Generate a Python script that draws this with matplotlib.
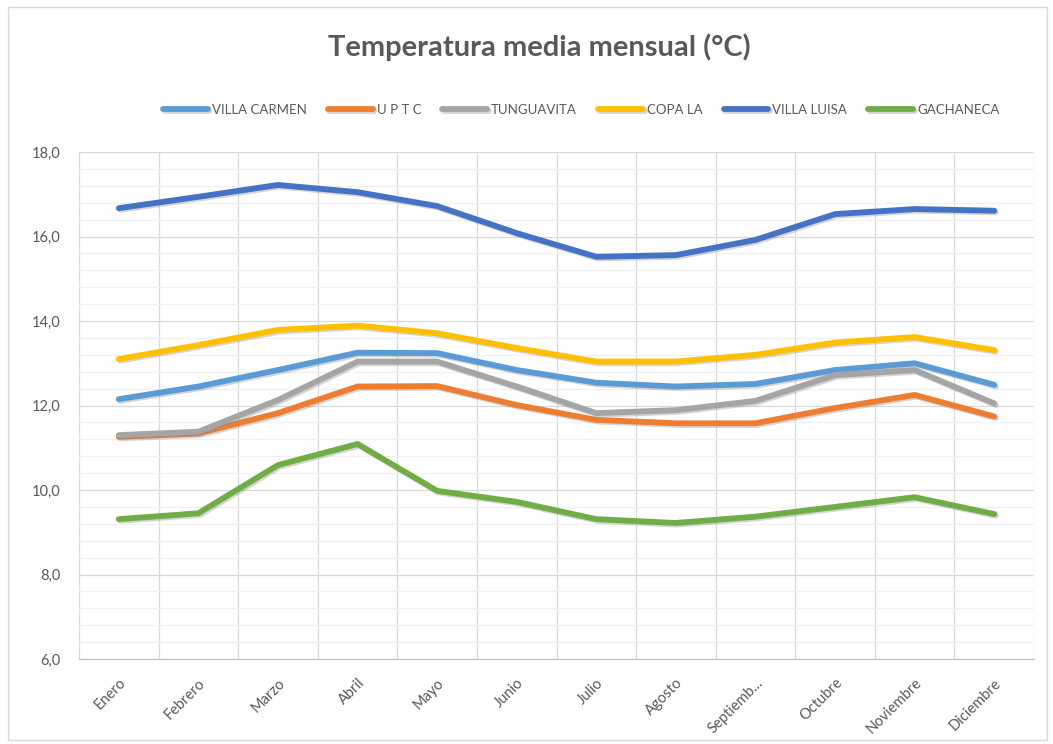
import numpy as np
import matplotlib.pyplot as plt
import matplotlib.patheffects as pe
from matplotlib.ticker import MultipleLocator, FuncFormatter
from matplotlib.patches import Rectangle

plt.rcParams['font.family'] = ['Lato', 'DejaVu Sans']

meses = ['Enero', 'Febrero', 'Marzo', 'Abril', 'Mayo', 'Junio', 'Julio',
         'Agosto', 'Septiemb...', 'Octubre', 'Noviembre', 'Diciembre']

# temperatura media mensual por estacion (°C)
villa_carmen = [12.15, 12.45, 12.84, 13.25, 13.24, 12.84, 12.54, 12.45, 12.51, 12.84, 13.00, 12.49]
uptc = [11.26, 11.34, 11.82, 12.45, 12.46, 12.01, 11.66, 11.58, 11.58, 11.94, 12.25, 11.74]
tunguavita = [11.30, 11.38, 12.13, 13.04, 13.04, 12.45, 11.82, 11.89, 12.11, 12.72, 12.84, 12.05]
copa_la = [13.10, 13.43, 13.79, 13.89, 13.71, 13.36, 13.04, 13.04, 13.20, 13.49, 13.62, 13.31]
villa_luisa = [16.67, 16.94, 17.22, 17.05, 16.72, 16.08, 15.52, 15.56, 15.92, 16.53, 16.65, 16.61]
gachaneca = [9.31, 9.45, 10.59, 11.09, 9.98, 9.72, 9.31, 9.22, 9.37, 9.60, 9.83, 9.43]

series = [
    ('VILLA CARMEN', villa_carmen, '#5B9BD5'),
    ('U P T C', uptc, '#ED7D31'),
    ('TUNGUAVITA', tunguavita, '#A5A5A5'),
    ('COPA LA', copa_la, '#FFC000'),
    ('VILLA LUISA', villa_luisa, '#4472C4'),
    ('GACHANECA', gachaneca, '#70AD47'),
]

gris = '#595959'

fig = plt.figure(figsize=(10.53, 7.44), dpi=100)
ax = fig.add_axes([0.075, 0.1142, 0.907, 0.6815])

x = np.arange(len(meses))
sombra = [pe.SimpleLineShadow(offset=(1.2, -1.2), shadow_color='#888888', alpha=0.35),
          pe.Normal()]
for nombre, valores, color in series:
    ax.plot(x, valores, color=color, lw=4.2, label=nombre,
            solid_capstyle='round', solid_joinstyle='round', path_effects=sombra)

ax.set_xlim(-0.5, len(meses) - 0.5)
ax.set_ylim(6, 18)
ax.yaxis.set_major_locator(MultipleLocator(2))
ax.yaxis.set_minor_locator(MultipleLocator(0.4))
ax.yaxis.set_major_formatter(FuncFormatter(lambda v, p: f'{v:.1f}'.replace('.', ',')))

ax.set_xticks(x)
ax.set_xticklabels(meses, rotation=45, ha='right', rotation_mode='anchor')
ax.set_xticks(np.arange(-0.5, len(meses)), minor=True)

ax.grid(which='major', axis='y', color='#D9D9D9', lw=0.9)
ax.grid(which='minor', axis='y', color='#F0F0F0', lw=0.9)
ax.grid(which='minor', axis='x', color='#D9D9D9', lw=0.9)
ax.set_axisbelow(True)

for s in ['top', 'left', 'right']:
    ax.spines[s].set_visible(False)
ax.spines['bottom'].set_color('#BFBFBF')
ax.tick_params(which='both', length=0)
ax.tick_params(axis='y', labelsize=10.5, labelcolor=gris, pad=13)
ax.tick_params(axis='x', labelsize=10.5, labelcolor=gris, pad=12)

fig.text(0.512, 0.937, 'Temperatura media mensual (°C)', ha='center', va='center',
         fontsize=21, fontweight='bold', color=gris)

fig.legend(loc='center', bbox_to_anchor=(0.552, 0.852), ncol=6, frameon=False,
           fontsize=9.5, handlelength=3.4, handletextpad=0.3, columnspacing=1.6,
           labelcolor=gris)

fig.patches.append(Rectangle((0.008, 0.005), 0.986, 0.985, transform=fig.transFigure,
                             fill=False, edgecolor='#D9D9D9', lw=1))

fig.savefig('out.png', dpi=100)
